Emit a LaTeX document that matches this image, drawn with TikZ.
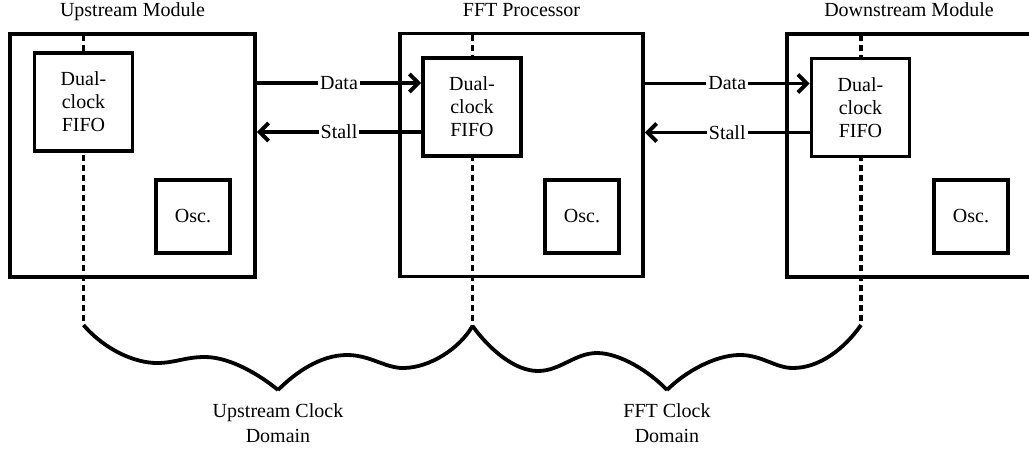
\documentclass[tikz,border=0pt]{standalone}
\usepackage{fontspec}
\setmainfont{Liberation Serif}
\usetikzlibrary{arrows.meta}

\begin{document}
\begin{tikzpicture}[x=0.5pt, y=-0.5pt, >={Straight Barb[length=4.5pt,width=9pt]},
    font=\fontsize{10}{11.5}\selectfont,
    box/.style={draw, line width=1.9pt, inner sep=0pt},
    module/.style={box, minimum width=122.5pt, minimum height=121.5pt},
    fifo/.style={box, fill=white, minimum width=49pt, minimum height=49pt, align=center},
    osc/.style={box, fill=white, minimum width=37pt, minimum height=36.5pt},
    sig/.style={line width=1.9pt, ->},
    siglbl/.style={fill=white, inner sep=1pt},
    clk/.style={line width=1.6pt, dash pattern=on 3pt off 2pt},
    brace/.style={line width=1.9pt, line join=miter},
    domlbl/.style={anchor=north, align=center, font=\fontsize{10}{12.5}\selectfont}]

    % 0. Ukuran gambar
    \useasboundingbox (0,0) rectangle (1029,450);

    % 1. Kotak modul
    \node[module] (upmod)   at (132.5,155.5) {};
    \node[module, minimum width=121.5pt] (midmod) at (521.5,155) {};
    \node[module] (downmod) at (909.5,155.5) {};

    % 2. Judul modul
    \node[anchor=base] (uptitle)   at (132.5,16) {Upstream Module};
    \node[anchor=base] (midtitle)  at (521.5,16) {FFT Processor};
    \node[anchor=base] (downtitle) at (909,16)   {Downstream Module};

    % 3. Ujung kurung kurawal
    \coordinate (upbr)   at (83.5,325);
    \coordinate (midbr)  at (472.5,326);
    \coordinate (downbr) at (861,325);

    % 4. Garis batas domain clock (putus-putus)
    \draw[clk] ([yshift=-1.5pt]upbr |- upmod.north)     -- (upbr);
    \draw[clk] ([yshift=-1.5pt]midbr |- midmod.north)   -- (midbr);
    \draw[clk] ([yshift=-1.5pt]downbr |- downmod.north) -- (downbr);

    % 5. FIFO dan osilator
    \node[fifo] (upfifo)   at (83.5,102)   {Dual-\\clock\\FIFO};
    \node[fifo] (midfifo)  at (472,107)    {Dual-\\clock\\FIFO};
    \node[fifo] (downfifo) at (860.5,107.5) {Dual-\\clock\\FIFO};

    \node[osc] (uposc)   at (193,216.5) {Osc.};
    \node[osc] (midosc)  at (582,216.5) {Osc.};
    \node[osc] (downosc) at (971,216.5) {Osc.};

    % 6. Sinyal Data dan Stall
    \coordinate (dat1) at ([yshift=12pt]midfifo.west);
    \coordinate (stl1) at ([yshift=-12.5pt]midfifo.west);
    \coordinate (dat2) at ([yshift=12pt]downfifo.west);
    \coordinate (stl2) at ([yshift=-12.5pt]downfifo.west);

    \draw[sig] (upmod.east |- dat1) -- (dat1) node[siglbl, midway] {Data};
    \draw[sig] (stl1) -- (upmod.east |- stl1) node[siglbl, midway] {Stall};
    \draw[sig] (midmod.east |- dat2) -- (dat2) node[siglbl, midway] {Data};
    \draw[sig] (stl2) -- (midmod.east |- stl2) node[siglbl, midway] {Stall};

    % 7. Kurung kurawal domain clock
    \coordinate (uptip)  at (278,390);
    \coordinate (midtip) at (667,390);
    \draw[brace] (upbr) .. controls (105,350) and (135,363) .. (157,363)
        .. controls (175,363) and (185,357) .. (205,357)
        .. controls (230,357) and (260,375) .. (uptip);
    \draw[brace] (uptip) .. controls (295,373) and (320,355) .. (347,355)
        .. controls (370,355) and (385,368) .. (403,368)
        .. controls (430,368) and (460,348) .. (midbr);
    \draw[brace] (midbr) .. controls (490,350) and (515,371) .. (538,371)
        .. controls (560,371) and (575,353) .. (597,353)
        .. controls (620,353) and (650,372) .. (midtip);
    \draw[brace] (midtip) .. controls (685,372) and (715,355) .. (740,355)
        .. controls (762,355) and (775,368) .. (793,368)
        .. controls (820,368) and (845,348) .. (downbr);

    % 8. Nama domain
    \node[domlbl] (upclk)  at (278,397) {Upstream Clock\\Domain};
    \node[domlbl] (fftclk) at (667,397) {FFT Clock\\Domain};
\end{tikzpicture}
\end{document}
